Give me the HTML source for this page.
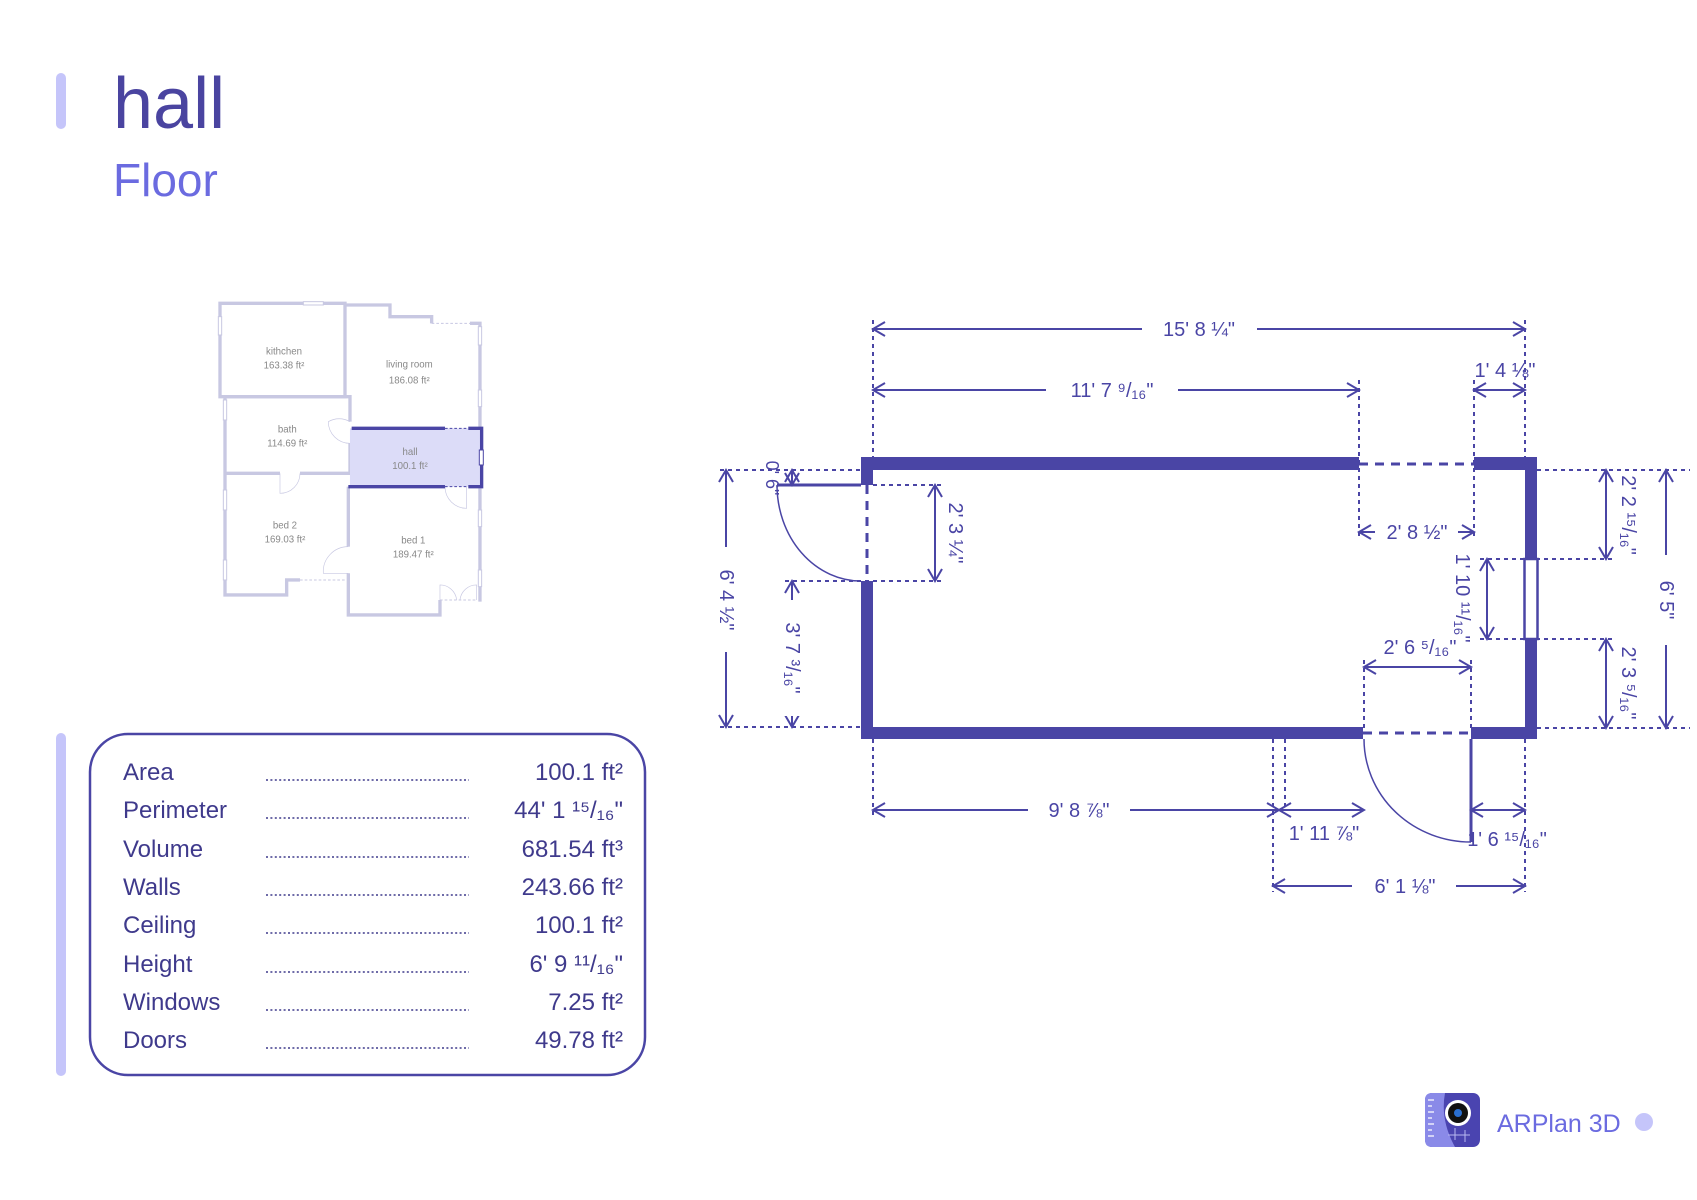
<!DOCTYPE html>
<html><head><meta charset="utf-8"><style>
html,body{margin:0;padding:0;background:#fff;}
svg{display:block;font-family:"Liberation Sans","DejaVu Sans",sans-serif;}
</style></head><body>
<svg width="1697" height="1200" viewBox="0 0 1697 1200" xmlns="http://www.w3.org/2000/svg">
<defs>
<marker id="a" viewBox="-2 -9 16 18" markerWidth="16" markerHeight="18" refX="12" refY="0" orient="auto-start-reverse" markerUnits="userSpaceOnUse">
<path d="M0,-7 L12,0 L0,7" fill="none" stroke="#4a45a5" stroke-width="2"/>
</marker>
</defs>
<rect width="1697" height="1200" fill="#fff"/>

<!-- Title -->
<rect x="56" y="73" width="10" height="56" rx="5" fill="#c5c5fa"/>
<text x="113" y="128" font-size="72" fill="#4a44a0">hall</text>
<text x="113" y="196" font-size="46" fill="#6b6be0">Floor</text>

<!-- Mini plan -->
<g transform="translate(200,290) scale(0.3333)" fill="none" stroke="#c8c8e2" stroke-width="10">
<path d="M60,40 H435 V320 H60 Z"/>
<path d="M435,45 H570 V80 H695 V100"/>
<path d="M695,100 H810" stroke-dasharray="8 6" stroke-width="3"/>
<path d="M810,100 H840 V415"/>
<path d="M75,320 H450 V395"/>
<path d="M450,460 V550"/>
<path d="M75,320 V915 H260 V870 H300"/>
<path d="M300,870 H440" stroke-dasharray="8 6" stroke-width="3"/>
<path d="M75,550 H240"/><path d="M300,550 H450"/>
<path d="M445,590 V770"/><path d="M445,850 V975 H720 V930"/>
<path d="M720,930 H830" stroke-dasharray="8 6" stroke-width="3"/>
<path d="M840,595 V935"/>
<rect x="310" y="35" width="60" height="10" fill="#fff" stroke-width="3"/>
<rect x="55" y="80" width="10" height="55" fill="#fff" stroke-width="3"/>
<rect x="70" y="330" width="10" height="60" fill="#fff" stroke-width="3"/>
<rect x="70" y="600" width="10" height="60" fill="#fff" stroke-width="3"/>
<rect x="70" y="810" width="10" height="60" fill="#fff" stroke-width="3"/>
<rect x="835" y="110" width="10" height="55" fill="#fff" stroke-width="3"/>
<rect x="835" y="300" width="10" height="50" fill="#fff" stroke-width="3"/>
<rect x="835" y="660" width="10" height="50" fill="#fff" stroke-width="3"/>
<rect x="835" y="840" width="10" height="50" fill="#fff" stroke-width="3"/>
<path d="M450,395 A65,65 0 0 0 385,395 V395 A65,65 0 0 0 450,460" stroke-width="2"/>
<path d="M240,550 V610 A60,60 0 0 0 300,550" stroke-width="2"/>
<path d="M445,770 A75,75 0 0 0 370,850 H445" stroke-width="2"/>
<path d="M735,590 A65,65 0 0 0 800,655 V590" stroke-width="2"/>
<path d="M720,930 V885 A50,50 0 0 1 770,930 M830,930 V885 A50,50 0 0 0 780,930" stroke-width="2"/>
<rect x="450" y="415" width="395" height="175" fill="#dcdcf8" stroke="none"/>
<g stroke="#4a45a5">
<path d="M455,415 H735 M805,415 H845 V595 M445,590 H735 M805,590 H845"/>
<path d="M735,415 H805 M735,590 H805" stroke-dasharray="8 6" stroke-width="3"/>
<rect x="838" y="480" width="12" height="45" fill="#fff" stroke-width="3"/>
</g>
<g fill="#888" stroke="none" font-size="29" text-anchor="middle">
<text x="252" y="193">kithchen</text><text x="252" y="235">163.38 ft²</text>
<text x="628" y="233">living room</text><text x="628" y="280">186.08 ft²</text>
<text x="262" y="428">bath</text><text x="262" y="470">114.69 ft²</text>
<text x="630" y="495">hall</text><text x="630" y="537">100.1 ft²</text>
<text x="255" y="715">bed 2</text><text x="255" y="757">169.03 ft²</text>
<text x="640" y="760">bed 1</text><text x="640" y="802">189.47 ft²</text>
</g>
</g>

<!-- Table -->
<rect x="56" y="733" width="10" height="343" rx="5" fill="#c5c5fa"/>
<rect x="90" y="734" width="555" height="341" rx="38" fill="none" stroke="#4a45a5" stroke-width="2.5"/>
<g font-size="24" fill="#3f3a8c">
<text x="123" y="780">Area</text><text x="623" y="780" text-anchor="end">100.1 ft²</text>
<text x="123" y="818">Perimeter</text><text x="623" y="818" text-anchor="end">44' 1 ¹⁵/₁₆"</text>
<text x="123" y="857">Volume</text><text x="623" y="857" text-anchor="end">681.54 ft³</text>
<text x="123" y="895">Walls</text><text x="623" y="895" text-anchor="end">243.66 ft²</text>
<text x="123" y="933">Ceiling</text><text x="623" y="933" text-anchor="end">100.1 ft²</text>
<text x="123" y="972">Height</text><text x="623" y="972" text-anchor="end">6' 9 ¹¹/₁₆"</text>
<text x="123" y="1010">Windows</text><text x="623" y="1010" text-anchor="end">7.25 ft²</text>
<text x="123" y="1048">Doors</text><text x="623" y="1048" text-anchor="end">49.78 ft²</text>
</g>
<g stroke="#3f3a8c" stroke-width="1.5" stroke-dasharray="2 2.4">
<path d="M266,780H469 M266,818H469 M266,857H469 M266,895H469 M266,933H469 M266,972H469 M266,1010H469 M266,1048H469"/>
</g>

<!-- Dotted extension lines -->
<g stroke="#4a45a5" stroke-width="2" stroke-dasharray="4 4" fill="none">
<path d="M873,320V457 M873,739V815 M1525,320V457 M1525,739V892 M1359,380V540 M1474,380V540 M1364,660V728 M1471,660V728 M1273,739V892 M1285,739V810"/>
<path d="M720,470H861 M720,727H861 M873,485H945 M785,581H945 M1537,470H1690 M1537,728H1690 M1480,559H1612 M1480,639H1612"/>
</g>

<!-- Walls -->
<g fill="#4a45a5">
<rect x="861" y="457" width="498" height="13"/>
<rect x="1474" y="457" width="63" height="13"/>
<rect x="861" y="457" width="12" height="28"/>
<rect x="861" y="581" width="12" height="158"/>
<rect x="861" y="727" width="502" height="12"/>
<rect x="1471" y="727" width="66" height="12"/>
<rect x="1525" y="457" width="12" height="282"/>
</g>
<rect x="1524.5" y="559" width="13" height="80" fill="#fff" stroke="#4a45a5" stroke-width="2.5"/>
<g stroke="#4a45a5" fill="none">
<path d="M1359,464H1474 M1363,733H1471 M867,485V581" stroke-width="3" stroke-dasharray="9 7"/>
<path d="M777,485H861 M1471,739V842" stroke-width="3"/>
<path d="M777,485 A84,96 0 0 0 861,581" stroke-width="1.5"/>
<path d="M1364,739 A107,103 0 0 0 1471,842" stroke-width="1.5"/>
</g>

<!-- Dimension lines -->
<g stroke="#4a45a5" stroke-width="2" fill="none" marker-start="url(#a)" marker-end="url(#a)">
<path d="M873,329H1525"/>
<path d="M873,390H1359"/>
<path d="M1474,390H1525"/>
<path d="M1359,532H1474"/>
<path d="M1364,667H1471"/>
<path d="M873,810H1279"/>
<path d="M1279,810H1364"/>
<path d="M1471,810H1525"/>
<path d="M1273,886H1525"/>
<path d="M726,470V727"/>
<path d="M792,581V727"/>
<path d="M935,485V581"/>
<path d="M792,470V485"/>
<path d="M1606,470V559"/>
<path d="M1606,639V728"/>
<path d="M1666,470V728"/>
<path d="M1487,559V639"/>
</g>
<!-- gaps -->
<g fill="#fff">
<rect x="1142" y="320" width="115" height="18"/>
<rect x="1046" y="381" width="132" height="18"/>
<rect x="1375" y="523" width="83" height="18"/>
<rect x="1028" y="801" width="102" height="18"/>
<rect x="1352" y="877" width="104" height="18"/>
<rect x="717" y="547" width="18" height="105"/>
<rect x="783" y="600" width="18" height="116"/>
<rect x="1657" y="555" width="18" height="90"/>
</g>
<g font-size="20" fill="#4a45a5" text-anchor="middle" dominant-baseline="central">
<text x="1199" y="330">15' 8 ¼"</text>
<text x="1112" y="391">11' 7 ⁹/₁₆"</text>
<text x="1505" y="371">1' 4 ⅛"</text>
<text x="1417" y="533">2' 8 ½"</text>
<text x="1420" y="648">2' 6 ⁵/₁₆"</text>
<text x="1079" y="811">9' 8 ⅞"</text>
<text x="1324" y="834">1' 11 ⅞"</text>
<text x="1507" y="840">1' 6 ¹⁵/₁₆"</text>
<text x="1405" y="887">6' 1 ⅛"</text>
<text transform="translate(726,600) rotate(90)">6' 4 ½"</text>
<text transform="translate(792,658) rotate(90)">3' 7 ³/₁₆"</text>
<text transform="translate(955,533) rotate(90)">2' 3 ¼"</text>
<text transform="translate(772,478) rotate(90)" font-size="18">0' 6"</text>
<text transform="translate(1628,515) rotate(90)">2' 2 ¹⁵/₁₆"</text>
<text transform="translate(1628,683) rotate(90)">2' 3 ⁵/₁₆"</text>
<text transform="translate(1666,600) rotate(90)">6' 5"</text>
<text transform="translate(1462,598) rotate(90)">1' 10 ¹¹/₁₆"</text>
</g>

<!-- Logo -->
<g>
<rect x="1425" y="1093" width="55" height="54" rx="7" fill="#4a44b0"/>
<path d="M1425,1100 Q1425,1093 1432,1093 H1445 Q1440,1120 1455,1147 H1432 Q1425,1147 1425,1140 Z" fill="#8a8ae8"/>
<g stroke="#fff" stroke-width="1.2"><path d="M1428,1100H1434 M1428,1106H1432 M1428,1112H1434 M1428,1118H1432 M1428,1124H1434 M1428,1130H1432 M1428,1136H1434"/></g>
<circle cx="1458" cy="1113" r="13" fill="#fff"/>
<circle cx="1458" cy="1113" r="10" fill="#111"/>
<circle cx="1458" cy="1113" r="4" fill="#2a6fd0"/>
<path d="M1448,1135 H1470 M1455,1128 V1140 M1465,1130 V1142" stroke="#b8b8f0" stroke-width="1"/>
</g>
<text x="1497" y="1132" font-size="25" fill="#6b6be0">ARPlan 3D</text>
<circle cx="1644" cy="1122" r="9" fill="#c5c5fa"/>
</svg>
</body></html>
